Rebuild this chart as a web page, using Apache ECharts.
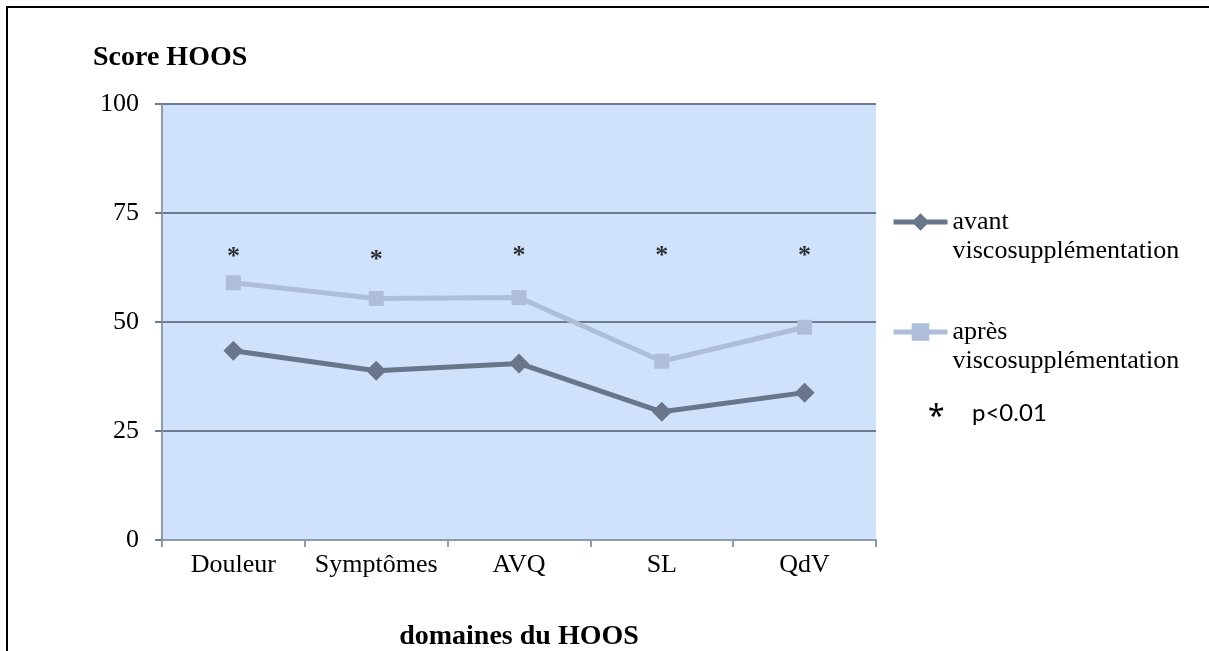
<!DOCTYPE html>
<html>
<head>
<meta charset="utf-8">
<script src="https://cdn.jsdelivr.net/npm/echarts@6/dist/echarts.min.js"></script>
<style>
  html, body { margin: 0; padding: 0; background: #fff; }
  #frame {
    position: absolute; left: 6px; top: 6px; width: 1209px; height: 651px;
    border-left: 2px solid #000; border-top: 2px solid #000;
  }
  #chart { position: absolute; left: 0; top: 0; width: 1209px; height: 651px; }
</style>
</head>
<body>
<div id="frame"></div>
<div id="chart"></div>
<script>
// domaines du HOOS
const categories = ['Douleur', 'Symptômes', 'AVQ', 'SL', 'QdV']
// scores avant / après viscosupplémentation
const avantValues = [43.4, 38.8, 40.5, 29.4, 33.8]
const apresValues = [59.0, 55.4, 55.6, 41.0, 48.8]
// hauteur des astérisques (p<0.01)
const starValues = [66.1, 65.4, 66.2, 66.2, 66.2]
const yTicks = [0, 25, 50, 75, 100]

const serif = '"Liberation Serif", "Times New Roman", serif'
const avantName = 'avant viscosupplémentation'
const apresName = 'après viscosupplémentation'

const chart = echarts.init(document.getElementById('chart'))

const option = {
  animation: false,
  backgroundColor: 'transparent',
  title: {
    text: 'Score HOOS',
    left: 93,
    top: 44,
    padding: 0,
    textStyle: { fontFamily: serif, fontSize: 28, fontWeight: 'bold', color: '#000' }
  },
  legend: {
    orient: 'vertical',
    left: 891,
    top: 180,
    padding: 0,
    itemWidth: 54,
    itemHeight: 22,
    itemGap: 26,
    data: [avantName, apresName],
    lineStyle: { width: 5 },
    formatter: name => {
      const parts = name.split(' ')
      return '{e| }\n{t|' + parts[0] + '}\n{t|' + parts[1] + '}'
    },
    textStyle: {
      fontFamily: serif,
      fontSize: 26,
      color: '#000',
      rich: {
        e: { fontSize: 26, lineHeight: 29 },
        t: { fontFamily: serif, fontSize: 26, lineHeight: 29, color: '#000' }
      }
    }
  },
  grid: {
    left: 162,
    top: 104,
    right: 333,
    bottom: 111,
    outerBoundsMode: 'none',
    containLabel: false,
    show: true,
    backgroundColor: '#D0E2FB',
    borderWidth: 0
  },
  xAxis: {
    type: 'category',
    data: categories,
    boundaryGap: true,
    name: 'domaines du HOOS',
    nameLocation: 'middle',
    nameGap: 83,
    nameTextStyle: { fontFamily: serif, fontSize: 28, fontWeight: 'bold', color: '#000' },
    axisLine: { lineStyle: { color: '#8D9BB0', width: 2 } },
    axisTick: { show: true, interval: 0, length: 7, lineStyle: { color: '#8D9BB0', width: 2 } },
    axisLabel: { fontFamily: serif, fontSize: 26, color: '#000', margin: 12, interval: 0 }
  },
  yAxis: {
    type: 'value',
    min: 0,
    max: 100,
    interval: 25,
    axisLine: { show: true, lineStyle: { color: '#8D9BB0', width: 2 } },
    axisTick: { show: true, length: 7, lineStyle: { color: '#6E7A8D', width: 2 } },
    splitLine: { show: true, lineStyle: { color: '#6E7A8D', width: 2 } },
    axisLabel: {
      fontFamily: serif, fontSize: 26, color: '#000', margin: 23,
      formatter: v => yTicks.includes(v) ? String(v) : ''
    }
  },
  series: [
    {
      name: avantName,
      type: 'line',
      data: avantValues,
      symbol: 'diamond',
      symbolSize: 20,
      lineStyle: { color: '#68758A', width: 5 },
      itemStyle: { color: '#68758A' },
      z: 3
    },
    {
      name: apresName,
      type: 'line',
      data: apresValues,
      symbol: 'rect',
      symbolSize: 15,
      lineStyle: { color: '#AFBED8', width: 5 },
      itemStyle: { color: '#AFBED8' },
      z: 2
    },
    {
      name: 'p',
      type: 'scatter',
      data: starValues,
      symbolSize: 0,
      label: {
        show: true,
        position: 'inside',
        formatter: '*',
        fontFamily: serif,
        fontSize: 26,
        fontWeight: 'bold',
        color: '#000',
        offset: [0, 5]
      },
      z: 4
    }
  ],
  graphic: [
    {
      type: 'text',
      x: 928,
      y: 417,
      style: { text: '*', font: '30px "Noto Sans", sans-serif', fill: '#000', verticalAlign: 'middle' }
    },
    {
      type: 'text',
      x: 972,
      y: 413,
      style: { text: 'p<0.01', font: '24px Lato, "Noto Sans", sans-serif', fill: '#000', verticalAlign: 'middle' }
    }
  ]
}

chart.setOption(option)
</script>
</body>
</html>
